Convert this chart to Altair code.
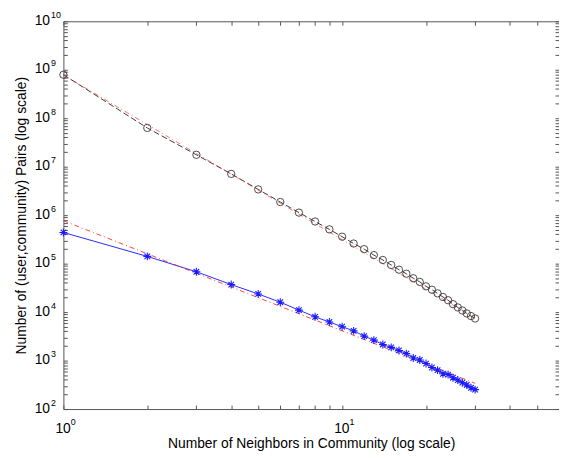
import altair as alt
import pandas as pd

# ---- data ----
x_vals = list(range(1, 31))
pairs_all = [7.9e8, 6.3e7, 1.76e7, 7.1e6, 3.4e6, 1.87e6, 1.13e6, 7.4e5, 5.1e5, 3.6e5,
             2.6e5, 1.99e5, 1.50e5, 1.19e5, 9.4e4, 7.5e4, 6.2e4, 5.0e4, 4.2e4, 3.4e4,
             2.9e4, 2.44e4, 2.05e4, 1.76e4, 1.46e4, 1.25e4, 1.08e4, 9.4e3, 8.3e3, 7.4e3]
pairs_comm = [4.4e5, 1.41e5, 6.8e4, 3.7e4, 2.37e4, 1.6e4, 1.10e4, 8.0e3, 6.25e3, 5.0e3,
              4.1e3, 3.2e3, 2.64e3, 2.15e3, 1.87e3, 1.62e3, 1.39e3, 1.13e3, 1.03e3, 869,
              720, 635, 535, 515, 443, 397, 350, 314, 275, 252]
fit_x = [1, 30]
fit_all = [7.8e8, 7.5e3]
fit_comm = [7.7e5, 340]

x_decades = [1, 10]
x_ticks = [1, 2, 3, 4, 5, 6, 7, 8, 9, 10, 20, 30, 40, 50]
y_decades = [10.0 ** k for k in range(2, 11)]
y_ticks = [m * 10.0 ** k for k in range(2, 10) for m in range(1, 10)] + [1e10]

df_all = pd.DataFrame({"x": x_vals, "y": pairs_all})
df_comm = pd.DataFrame({"x": x_vals, "y": pairs_comm})
df_fit_all = pd.DataFrame({"x": fit_x, "y": fit_all})
df_fit_comm = pd.DataFrame({"x": fit_x, "y": fit_comm})

FONT = "Liberation Sans"
xs = alt.Scale(type="log", domain=[1, 60], nice=False)
ys = alt.Scale(type="log", domain=[1e2, 1e10], nice=False)
EXP = "'' + round(log(datum.value) / LN10)"

base = dict(grid=False, domain=False, labelFont=FONT, labelColor="black",
            labelFlush=False, labelOverlap=False, labelBound=False)

# x axes
x_lab = alt.Axis(orient="bottom", values=x_decades, labelExpr="'10'", ticks=False, tickSize=0,
                 labelAlign="right", labelOffset=7, labelPadding=13, labelBaseline="top",
                 labelFontSize=14, title="Number of Neighbors in Community (log scale)",
                 titleFont=FONT, titleFontSize=14, titleFontWeight="normal",
                 titleColor="black", titlePadding=1, **base)
x_exp = alt.Axis(orient="bottom", values=x_decades, labelExpr=EXP, ticks=False, tickSize=0,
                 labelAlign="left", labelOffset=7, labelPadding=9, labelBaseline="top",
                 labelFontSize=9, title=None, **base)
x_tb = alt.Axis(orient="bottom", values=x_ticks, labels=False, ticks=True, tickSize=4,
                offset=-4, tickColor="#555555", title=None, grid=False, domain=False)
x_tt = alt.Axis(orient="top", values=x_ticks, labels=False, ticks=True, tickSize=4,
                offset=-4, tickColor="#555555", title=None, grid=False, domain=False)

# y axes
y_lab = alt.Axis(orient="left", values=y_decades, labelExpr="'10'", ticks=False, tickSize=0,
                 labelAlign="right", labelPadding=14, labelOffset=-1, labelBaseline="middle",
                 labelFontSize=14, title="Number of (user,community) Pairs (log scale)",
                 titleFont=FONT, titleFontSize=14, titleFontWeight="normal",
                 titleColor="black", titlePadding=6, **base)
y_exp = alt.Axis(orient="left", values=y_decades, labelExpr=EXP, ticks=False, tickSize=0,
                 labelAlign="left", labelPadding=13, labelOffset=-7, labelBaseline="middle",
                 labelFontSize=9, title=None, **base)
y_tl = alt.Axis(orient="left", values=y_ticks, labels=False, ticks=True, tickSize=4,
                offset=-4, tickColor="#555555", title=None, grid=False, domain=False)
y_tr = alt.Axis(orient="right", values=y_ticks, labels=False, ticks=True, tickSize=4,
                offset=-4, tickColor="#555555", title=None, grid=False, domain=False)

STAR = "M-1,0L1,0M0,-1L0,1M-0.7,-0.7L0.7,0.7M-0.7,0.7L0.7,-0.7"

black_line = alt.Chart(df_all).mark_line(color="#3a3a3a", strokeWidth=1, strokeDash=[6, 3]).encode(
    x=alt.X("x:Q", scale=xs, axis=x_lab), y=alt.Y("y:Q", scale=ys, axis=y_lab))
black_pts = alt.Chart(df_all).mark_point(shape="circle", filled=False, color="#3a3a3a",
                                         strokeWidth=0.9, size=55, opacity=1).encode(
    x=alt.X("x:Q", scale=xs, axis=x_exp), y=alt.Y("y:Q", scale=ys, axis=y_exp))
fit1 = alt.Chart(df_fit_all).mark_line(color="#ff3030", strokeWidth=1, strokeDash=[5, 3, 1, 3],
                                       opacity=0.7).encode(
    x=alt.X("x:Q", scale=xs, axis=None), y=alt.Y("y:Q", scale=ys, axis=None))
blue_line = alt.Chart(df_comm).mark_line(color="#2a2aff", strokeWidth=1).encode(
    x=alt.X("x:Q", scale=xs, axis=x_tb), y=alt.Y("y:Q", scale=ys, axis=y_tl))
blue_pts = alt.Chart(df_comm).mark_point(shape=STAR, filled=False, color="#1a1aff",
                                         strokeWidth=1.1, size=64, opacity=1).encode(
    x=alt.X("x:Q", scale=xs, axis=x_tt), y=alt.Y("y:Q", scale=ys, axis=y_tr))
fit2 = alt.Chart(df_fit_comm).mark_line(color="#ff2020", strokeWidth=1, strokeDash=[5, 3, 1, 3],
                                        opacity=0.85).encode(
    x=alt.X("x:Q", scale=xs, axis=None), y=alt.Y("y:Q", scale=ys, axis=None))

chart = alt.layer(black_line, fit1, blue_line, fit2, black_pts, blue_pts).resolve_axis(
    x="independent", y="independent"
).properties(
    width=501, height=392,
    padding={"left": 56, "top": 11, "right": 0, "bottom": 44},
    autosize=alt.AutoSizeParams(type="none"),
    background="white",
).configure_view(stroke="#555555", strokeWidth=1)

chart.save("out.html", embed_options={"renderer": "svg", "actions": False})
